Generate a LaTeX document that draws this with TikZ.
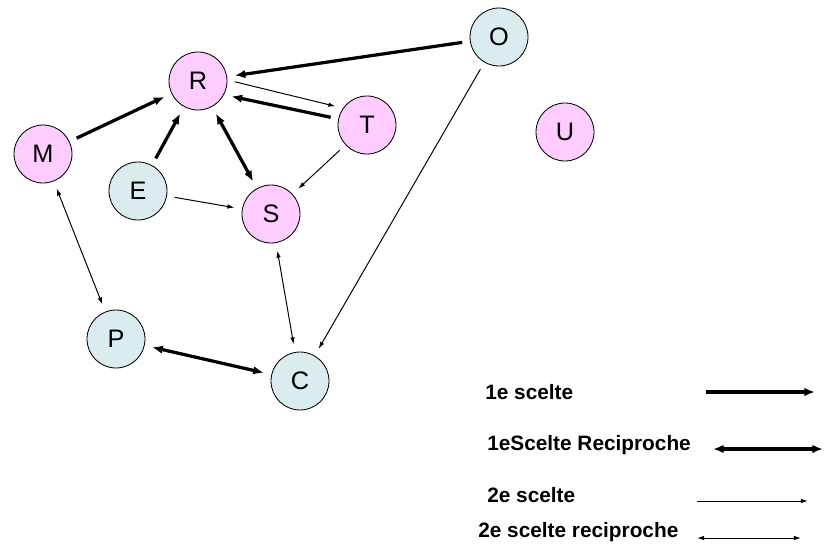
\documentclass[tikz,border=0pt]{standalone}
\usepackage{fontspec}
\setmainfont{Liberation Sans}
\usetikzlibrary{arrows.meta}
\definecolor{rose}{RGB}{255,204,255}
\definecolor{bleu}{RGB}{218,236,238}

\begin{document}
\begin{tikzpicture}[
	pers/.style={draw,circle,minimum size=1.45cm,inner sep=0pt,line width=0.6pt,font=\fontsize{18}{20}\selectfont},
	rosa/.style={pers,fill=rose},
	blau/.style={pers,fill=bleu},
	dick/.style={line width=2.3pt,-{Latex[length=7.5pt,width=6pt]},shorten <=5.5pt,shorten >=5.5pt},
	dickrz/.style={dick,{Latex[length=7.5pt,width=6pt]}-{Latex[length=7.5pt,width=6pt]}},
	duenn/.style={line width=0.7pt,-{Latex[length=5pt,width=3.2pt]},shorten <=5.5pt,shorten >=5.5pt},
	duennrz/.style={duenn,{Latex[length=5pt,width=3.2pt]}-{Latex[length=5pt,width=3.2pt]}},
	leg/.style={anchor=west,inner sep=0pt,font=\bfseries\fontsize{14.8}{17}\selectfont}]
	\useasboundingbox (0,0) rectangle (20.65,13.725);
	%Personen
	\node [rosa] (R) at (4.95,11.7) {R};
	\node [rosa] (T) at (9.175,10.6) {T};
	\node [rosa] (M) at (1.075,9.875) {M};
	\node [blau] (E) at (3.45,8.95) {E};
	\node [rosa] (S) at (6.775,8.375) {S};
	\node [blau] (O) at (12.475,12.8) {O};
	\node [rosa] (U) at (14.125,10.425) {U};
	\node [blau] (P) at (2.9,5.25) {P};
	\node [blau] (C) at (7.5,4.2) {C};
	%erste Wahl
	\draw [dick] (O) -- (R);
	\draw [dick] (T.168) -- (R.-28);
	\draw [dick] (M) -- (R);
	\draw [dick] (E) -- (R);
	\draw [dickrz] (R) -- (S);
	\draw [dickrz] (P) -- (C);
	%zweite Wahl
	\draw [duenn] (R.2) -- (T.145);
	\draw [duenn] (T) -- (S);
	\draw [duenn] (E) -- (S);
	\draw [duenn] (O) -- (C);
	\draw [duennrz] (M) -- (P);
	\draw [duennrz] (S) -- (C);
	%Legende
	\node [leg] (l1) at (12.125,3.925) {1e scelte};
	\node [leg] (l2) at (12.175,2.6) {1eScelte Reciproche};
	\node [leg] (l3) at (12.175,1.35) {2e scelte};
	\node [leg] (l4) at (11.95,0.425) {2e scelte reciproche};
	\coordinate (a1) at (17.65,3.925);
	\coordinate (b1) at (20.375,3.925);
	\coordinate (a2) at (17.825,2.5);
	\coordinate (b2) at (20.575,2.5);
	\coordinate (a3) at (17.425,1.2);
	\coordinate (b3) at (20.2,1.2);
	\coordinate (a4) at (17.425,0.275);
	\coordinate (b4) at (20.025,0.275);
	\draw [dick,shorten <=0pt,shorten >=0pt] (a1) -- (b1);
	\draw [dickrz,shorten <=0pt,shorten >=0pt] (a2) -- (b2);
	\draw [duenn,shorten <=0pt,shorten >=0pt] (a3) -- (b3);
	\draw [duennrz,shorten <=0pt,shorten >=0pt] (a4) -- (b4);
\end{tikzpicture}
\end{document}
